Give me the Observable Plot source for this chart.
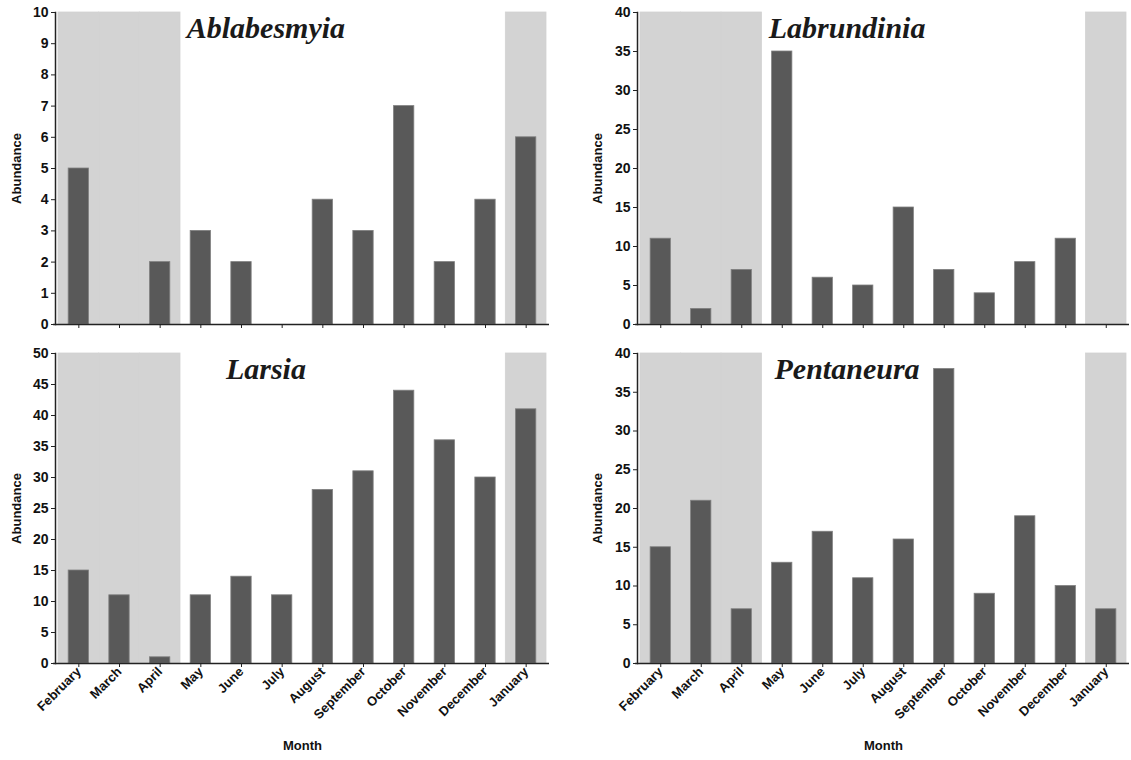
<!DOCTYPE html>
<html>
<head>
<meta charset="utf-8">
<script src="https://cdn.jsdelivr.net/npm/d3@7"></script>
<script src="https://cdn.jsdelivr.net/npm/@observablehq/plot@0.6"></script>
<style>
  html, body { margin: 0; padding: 0; background: #fff; }
  #wrap { position: relative; width: 1131px; height: 760px; font-family: "Liberation Sans", Arial, sans-serif; }
  .panel { position: absolute; }
</style>
</head>
<body>
<div id="wrap"></div>
<script>
const months = ["February","March","April","May","June","July","August","September","October","November","December","January"];
const shadedMonths = ["February","March","April","January"];

const ablabesmyia = [5, 0, 2, 3, 2, 0, 4, 3, 7, 2, 4, 6];
const labrundinia = [11, 2, 7, 35, 6, 5, 15, 7, 4, 8, 11, 0];
const larsia      = [15, 11, 1, 11, 14, 11, 28, 31, 44, 36, 30, 41];
const pentaneura  = [15, 21, 7, 13, 17, 11, 16, 38, 9, 19, 10, 7];

const yMax   = {Ablabesmyia: 10, Labrundinia: 40, Larsia: 50, Pentaneura: 40};
const yStep  = {Ablabesmyia: 1, Labrundinia: 5, Larsia: 5, Pentaneura: 5};

const panels = [
  {name: "Ablabesmyia", values: ablabesmyia, left: 0,   top: 0,   width: 565, height: 340, mL: 58, mR: 19, mT: 12, mB: 16, labels: false},
  {name: "Labrundinia", values: labrundinia, left: 565, top: 0,   width: 566, height: 340, mL: 75, mR: 5,  mT: 12, mB: 16, labels: false},
  {name: "Larsia",      values: larsia,      left: 0,   top: 340, width: 565, height: 420, mL: 58, mR: 19, mT: 13, mB: 97, labels: true},
  {name: "Pentaneura",  values: pentaneura,  left: 565, top: 340, width: 566, height: 420, mL: 75, mR: 5,  mT: 13, mB: 97, labels: true}
];

const wrap = document.getElementById("wrap");
const axisColor = "#222";

for (const p of panels) {
  const data = months.map((m, i) => ({month: m, value: p.values[i]}));
  const step = (p.width - p.mL - p.mR) / months.length;
  const inset = step * 0.25;
  const max = yMax[p.name];
  const ticks = d3.range(0, max + yStep[p.name] / 2, yStep[p.name]);

  const marks = [
    Plot.barY(shadedMonths, {x: d => d, y: max, fill: "#d3d3d3", stroke: "#d3d3d3", strokeWidth: 0.8}),
    Plot.barY(data, {x: "month", y: "value", fill: "#595959", stroke: "#808080", strokeWidth: 0.8, insetLeft: inset, insetRight: inset}),
    Plot.ruleY([0], {stroke: axisColor, strokeWidth: 1.5, insetLeft: -5, insetRight: -3}),
    Plot.frame({anchor: "left", dx: -3, stroke: axisColor, strokeWidth: 1.5}),
    Plot.axisY({ticks, tickSize: 4, dx: -3, tickPadding: 3, fontSize: 14, fontWeight: "bold", fill: "#111", stroke: axisColor, label: null}),
    p.labels
      ? Plot.axisX({tickSize: 4, tickRotate: -45, fontSize: 13, fontWeight: "bold", fill: "#111", stroke: axisColor, tickPadding: 2, label: null})
      : Plot.axisX({tickSize: 4, tickFormat: () => "", stroke: axisColor, label: null}),
    Plot.text([p.name], {frameAnchor: "top-left", dx: step * 5.1, dy: 25, text: d => d, textAnchor: "middle", lineAnchor: "bottom",
      fontFamily: "Liberation Serif, Times New Roman, serif", fontStyle: "italic", fontWeight: "bold", fontSize: 30, fill: "#1a1a1a"}),
    Plot.text(["Abundance"], {frameAnchor: "left", dx: p.mL === 58 ? -42 : -43, rotate: -90, text: d => d, textAnchor: "middle", lineAnchor: "middle",
      fontWeight: "bold", fontSize: 13, fill: "#111"})
  ];
  if (p.labels) {
    marks.push(Plot.text(["Month"], {frameAnchor: "bottom", dy: 82, text: d => d, textAnchor: "middle", lineAnchor: "middle",
      fontWeight: "bold", fontSize: 13, fill: "#111"}));
  }

  const chart = Plot.plot({
    width: p.width,
    height: p.height,
    marginLeft: p.mL,
    marginRight: p.mR,
    marginTop: p.mT,
    marginBottom: p.mB,
    style: {fontFamily: "Liberation Sans, Arial, sans-serif", background: "transparent", overflow: "visible"},
    x: {domain: months, padding: 0, round: false},
    y: {domain: [0, max]},
    marks
  });
  const div = document.createElement("div");
  div.className = "panel";
  div.style.left = p.left + "px";
  div.style.top = p.top + "px";
  div.appendChild(chart);
  wrap.appendChild(div);
}
</script>
</body>
</html>
